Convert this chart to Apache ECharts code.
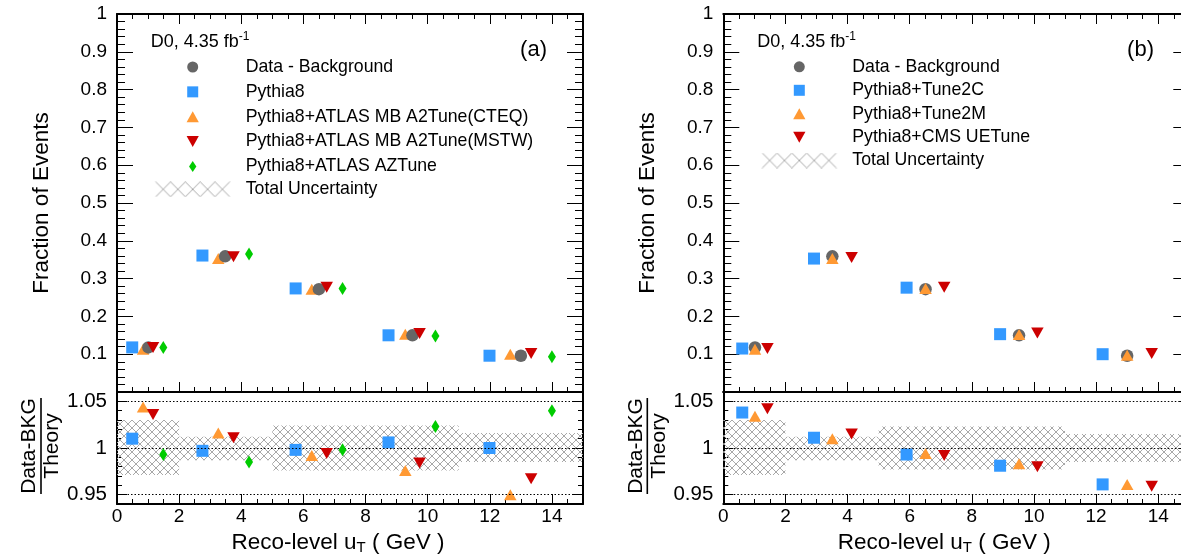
<!DOCTYPE html>
<html><head><meta charset="utf-8">
<script src="https://cdn.jsdelivr.net/npm/echarts@6/dist/echarts.min.js"></script>
<style>html,body{margin:0;padding:0;background:#fff}#c{width:1181px;height:556px}</style>
</head><body><div id="c"></div>
<script>
// ---------- data ----------
const binEdges = [0, 2, 5, 8, 11, 15];
const ratioTicks = [0.95, 1, 1.05];
// panel (a)
const aDataX = [1.01, 3.48, 6.50, 9.51, 13.00];
const aDataY = [0.118, 0.359, 0.272, 0.150, 0.096];
const aPyX = [0.49, 2.75, 5.75, 8.74, 11.99];
const aPyY = [0.118, 0.361, 0.274, 0.150, 0.096];
const aPyR = [1.010, 0.997, 0.998, 1.006, 1.000];
const aCteqX = [0.84, 3.26, 6.27, 9.28, 12.66];
const aCteqY = [0.113, 0.353, 0.272, 0.153, 0.100];
const aCteqR = [1.044, 1.016, 0.992, 0.976, 0.950];
const aMstwX = [1.16, 3.75, 6.75, 9.74, 13.33];
const aMstwY = [0.118, 0.358, 0.277, 0.155, 0.102];
const aMstwR = [1.036, 1.011, 0.994, 0.984, 0.967];
const aAzX = [1.49, 4.25, 7.26, 10.25, 14.00];
const aAzY = [0.118, 0.365, 0.274, 0.148, 0.093];
const aAzR = [0.993, 0.985, 0.998, 1.023, 1.040];
const aBandHi = [1.030, 1.012, 1.024, 1.024, 1.016];
const aBandLo = [0.971, 0.987, 0.976, 0.976, 0.985];
// panel (b)
const bDataX = [1.02, 3.51, 6.51, 9.52, 13.00];
const bDataY = [0.118, 0.359, 0.272, 0.150, 0.096];
const bC2X = [0.61, 2.92, 5.90, 8.91, 12.21];
const bC2Y = [0.115, 0.353, 0.276, 0.153, 0.100];
const bC2R = [1.038, 1.011, 0.993, 0.981, 0.961];
const bM2X = [1.02, 3.51, 6.51, 9.52, 13.00];
const bM2Y = [0.113, 0.353, 0.274, 0.152, 0.097];
const bM2R = [1.034, 1.010, 0.994, 0.983, 0.961];
const bCmsX = [1.42, 4.13, 7.11, 10.11, 13.79];
const bCmsY = [0.115, 0.356, 0.277, 0.156, 0.102];
const bCmsR = [1.042, 1.015, 0.992, 0.980, 0.959];
const bBandHi = [1.030, 1.012, 1.023, 1.023, 1.015];
const bBandLo = [0.971, 0.987, 0.977, 0.977, 0.985];

// ---------- styles ----------
const FONT = '"Liberation Sans", Arial, Helvetica, sans-serif';
const C_DATA = '#666666', C_BLUE = '#3399ff', C_ORANGE = '#ff9933', C_RED = '#cc0000', C_GREEN = '#00cc00';
const HATCH_COLOR = '#a8a8a8';
const SYM = {
  circle: {symbol: 'circle', size: 12.5, icon: 'circle'},
  square: {symbol: 'rect', size: [12, 12], icon: 'path://M0,0L10,0L10,10L0,10Z'},
  tri: {symbol: 'triangle', size: [12.5, 11], icon: 'path://M5,0L10,9L0,9Z'},
  inv: {symbol: 'path://M0,0L10,0L5,9Z', size: [12.5, 11], icon: 'path://M0,0L10,0L5,9Z'},
  dia: {symbol: 'diamond', size: [8, 13], icon: 'path://M4,0L8,6L4,12L0,6Z'}
};

function hatchTile() {
  const c = document.createElement('canvas'); c.width = 8; c.height = 8;
  const g = c.getContext('2d');
  g.strokeStyle = HATCH_COLOR; g.lineWidth = 1;
  g.beginPath(); g.moveTo(0, 0); g.lineTo(8, 8); g.moveTo(8, 0); g.lineTo(0, 8); g.stroke();
  return c;
}
const tile = hatchTile();
function hatchIcon() {
  const c = document.createElement('canvas'); c.width = 96; c.height = 16;
  const g = c.getContext('2d');
  g.strokeStyle = HATCH_COLOR; g.lineWidth = 1;
  const cw = 74 / 5;
  g.beginPath();
  for (let i = 0; i < 5; i++) {
    const x0 = 11 + i * cw, x1 = x0 + cw;
    g.moveTo(x0, 0.5); g.lineTo(x1, 15.5);
    g.moveTo(x1, 0.5); g.lineTo(x0, 15.5);
  }
  g.stroke();
  return 'image://' + c.toDataURL();
}
const HATCH_ICON = hatchIcon();

// ---------- layout ----------
const PX = [117, 723.3];
const GW = 466;
const grids = [];
PX.forEach(l => {
  grids.push({left: l, top: 14, width: GW, height: 378, containLabel: false, outerBoundsMode: 'none'});
  grids.push({left: l, top: 392, width: GW, height: 112, containLabel: false, outerBoundsMode: 'none'});
});

const xAxes = [], yAxes = [];
function xa(grid, pos, opt) {
  const o = {
    type: 'value', gridIndex: grid, position: pos, min: 0, max: 15, interval: opt.interval,
    axisLine: {show: !!opt.line, onZero: false, lineStyle: {color: '#000', width: 2}},
    axisTick: {show: opt.tick > 0, inside: true, length: opt.tick || 0, lineStyle: {color: '#000', width: 1}},
    axisLabel: {show: !!opt.label, margin: 3, showMaxLabel: false, color: '#000', fontSize: 19, fontFamily: FONT},
    splitLine: {show: false}
  };
  if (opt.name) {
    o.name = '{n|Reco-level u}{s|T}{n| ( GeV )}';
    o.nameLocation = 'middle';
    o.nameGap = 26;
    o.nameTextStyle = {color: '#000', fontFamily: FONT, fontSize: 22.5, padding: [0, 24, 0, 0],
      rich: {n: {fontSize: 22.5, fontFamily: FONT, color: '#000'},
             s: {fontSize: 15, fontFamily: FONT, color: '#000', padding: [10, 0, 0, 0]}}};
  }
  xAxes.push(o); return xAxes.length - 1;
}
function ya(grid, pos, opt) {
  const o = {
    type: 'value', gridIndex: grid, position: pos, min: opt.min, max: opt.max,
    axisLine: {show: !!opt.line, onZero: false, lineStyle: {color: '#000', width: 2}},
    axisTick: {show: true, inside: true, length: opt.tick, lineStyle: {color: '#000', width: 1}},
    axisLabel: {show: !!opt.label, margin: 10, showMinLabel: opt.showMin !== false, color: '#000', fontSize: opt.fs || 19, fontFamily: FONT},
    splitLine: {show: false}
  };
  if (opt.interval) o.interval = opt.interval;
  if (opt.minor) o.minorTick = {show: true, splitNumber: opt.minor, length: opt.minorLen, lineStyle: {color: '#000', width: 1}};
  if (opt.custom) { o.axisTick.customValues = opt.custom; o.axisLabel.customValues = opt.custom; }
  if (opt.name) {
    o.name = opt.name; o.nameLocation = 'middle'; o.nameGap = 64; o.nameRotate = 90;
    o.nameTextStyle = {color: '#000', fontFamily: FONT, fontSize: 22.5};
  }
  yAxes.push(o); return yAxes.length - 1;
}

const idx = [];
[0, 1].forEach(p => {
  const gt = p * 2, gr = p * 2 + 1;
  const r = {};
  r.tx = xa(gt, 'bottom', {interval: 2, tick: 10, line: true});
  xa(gt, 'bottom', {interval: 0.5, tick: 5});
  xa(gt, 'top', {interval: 2, tick: 10, line: true});
  xa(gt, 'top', {interval: 0.5, tick: 5});
  r.rx = xa(gr, 'bottom', {interval: 2, tick: 10, line: true, label: true, name: true});
  xa(gr, 'bottom', {interval: 0.5, tick: 5});
  xa(gr, 'top', {interval: 2, tick: 0, line: true});
  r.ty = ya(gt, 'left', {min: 0, max: 1, interval: 0.1, tick: 16, minor: 5, minorLen: 8, line: true, label: true, showMin: false, name: 'Fraction of Events'});
  ya(gt, 'right', {min: 0, max: 1, interval: 0.1, tick: 16, minor: 5, minorLen: 8, line: true});
  r.ry = ya(gr, 'left', {min: 0.94, max: 1.06, custom: ratioTicks, tick: 10, line: true, label: true, fs: 20.5});
  ya(gr, 'left', {min: 0.94, max: 1.06, interval: 0.01, tick: 5});
  ya(gr, 'right', {min: 0.94, max: 1.06, custom: ratioTicks, tick: 10, line: true});
  ya(gr, 'right', {min: 0.94, max: 1.06, interval: 0.01, tick: 5});
  idx.push(r);
});

function pts(xs, ys) { return xs.map((x, i) => [x, ys[i]]); }
function scat(name, xs, ys, color, sym, ax, yx, z) {
  return {type: 'scatter', name, data: pts(xs, ys), xAxisIndex: ax, yAxisIndex: yx,
    symbol: sym.symbol, symbolSize: sym.size, itemStyle: {color, opacity: 1}, z: z || 2,
    silent: true, animation: false, clip: false};
}
function band(lo, hi, ax, yx) {
  return {type: 'custom', name: 'Total Uncertainty', xAxisIndex: ax, yAxisIndex: yx, z: 1, silent: true, clip: true,
    data: binEdges.slice(0, -1).map((e, i) => [e, binEdges[i + 1], lo[i], hi[i]]),
    encode: {x: [0, 1], y: [2, 3]},
    renderItem: (params, api) => {
      const p0 = api.coord([api.value(0), api.value(3)]);
      const p1 = api.coord([api.value(1), api.value(2)]);
      return {type: 'rect', shape: {x: p0[0], y: p0[1], width: p1[0] - p0[0], height: p1[1] - p0[1]},
        style: {fill: {image: tile, repeat: 'repeat'}, stroke: null}};
    },
    markLine: {silent: true, symbol: ['none', 'none'], label: {show: false},
      lineStyle: {color: '#000', width: 1, type: [1.5, 2]},
      emphasis: {disabled: true},
      data: ratioTicks.map(v => ({yAxis: v}))}
  };
}

const A = idx[0], B = idx[1];
const series = [
  scat('Pythia8', aPyX, aPyY, C_BLUE, SYM.square, A.tx, A.ty, 2),
  scat('Pythia8+ATLAS MB A2Tune(CTEQ)', aCteqX, aCteqY, C_ORANGE, SYM.tri, A.tx, A.ty, 3),
  scat('Data - Background', aDataX, aDataY, C_DATA, SYM.circle, A.tx, A.ty, 4),
  scat('Pythia8+ATLAS MB A2Tune(MSTW)', aMstwX, aMstwY, C_RED, SYM.inv, A.tx, A.ty, 5),
  scat('Pythia8+ATLAS AZTune', aAzX, aAzY, C_GREEN, SYM.dia, A.tx, A.ty, 6),
  band(aBandLo, aBandHi, A.rx, A.ry),
  scat('Pythia8', aPyX, aPyR, C_BLUE, SYM.square, A.rx, A.ry, 2),
  scat('Pythia8+ATLAS MB A2Tune(CTEQ)', aCteqX, aCteqR, C_ORANGE, SYM.tri, A.rx, A.ry, 3),
  scat('Pythia8+ATLAS MB A2Tune(MSTW)', aMstwX, aMstwR, C_RED, SYM.inv, A.rx, A.ry, 5),
  scat('Pythia8+ATLAS AZTune', aAzX, aAzR, C_GREEN, SYM.dia, A.rx, A.ry, 6),
  scat('Data - Background', bDataX, bDataY, C_DATA, SYM.circle, B.tx, B.ty, 2),
  scat('Pythia8+Tune2C', bC2X, bC2Y, C_BLUE, SYM.square, B.tx, B.ty, 3),
  scat('Pythia8+Tune2M', bM2X, bM2Y, C_ORANGE, SYM.tri, B.tx, B.ty, 4),
  scat('Pythia8+CMS UETune', bCmsX, bCmsY, C_RED, SYM.inv, B.tx, B.ty, 5),
  band(bBandLo, bBandHi, B.rx, B.ry),
  scat('Pythia8+Tune2C', bC2X, bC2R, C_BLUE, SYM.square, B.rx, B.ry, 3),
  scat('Pythia8+Tune2M', bM2X, bM2R, C_ORANGE, SYM.tri, B.rx, B.ry, 4),
  scat('Pythia8+CMS UETune', bCmsX, bCmsR, C_RED, SYM.inv, B.rx, B.ry, 5)
];

const legTS = {color: '#000', fontSize: 17.7, fontFamily: FONT, lineHeight: 20};
function legend(left, top, items, ih, gap) {
  return {orient: 'vertical', left, top, padding: 0, itemWidth: 96, itemHeight: ih, itemGap: gap,
    selectedMode: false, textStyle: legTS, data: items, inactiveColor: '#000'};
}
// marker legends: visible icon is centred in the 96px item slot; the legend box starts at the widest icon's edge
const ICON_OFF = 48 - 6.1;
const legends = [
  legend(144.7 + ICON_OFF, 57, [
    {name: 'Data - Background', icon: SYM.circle.icon},
    {name: 'Pythia8', icon: SYM.square.icon},
    {name: 'Pythia8+ATLAS MB A2Tune(CTEQ)', icon: SYM.tri.icon},
    {name: 'Pythia8+ATLAS MB A2Tune(MSTW)', icon: SYM.inv.icon},
    {name: 'Pythia8+ATLAS AZTune', icon: SYM.dia.icon}], 11, 4.85),
  legend(144.7, 179.3, [{name: 'Total Uncertainty', icon: HATCH_ICON}], 16, 4.85),
  legend(751.3 + ICON_OFF, 56.8, [
    {name: 'Data - Background', icon: SYM.circle.icon},
    {name: 'Pythia8+Tune2C', icon: SYM.square.icon},
    {name: 'Pythia8+Tune2M', icon: SYM.tri.icon},
    {name: 'Pythia8+CMS UETune', icon: SYM.inv.icon}], 11, 3.5),
  legend(751.3, 150.5, [{name: 'Total Uncertainty', icon: HATCH_ICON}], 16, 3.5)
];

function lumiText(x) {
  return {type: 'text', x, y: 42, style: {text: '{m|D0, 4.35 fb}{s|-1}', verticalAlign: 'middle', align: 'left',
    rich: {m: {fontSize: 18, fontFamily: FONT, fill: '#000'}, s: {fontSize: 12, fontFamily: FONT, fill: '#000', padding: [0, 0, 11, 0]}}}};
}
function tagText(x, t) {
  return {type: 'text', x, y: 50, style: {text: t, fontSize: 22, fontFamily: FONT, fill: '#000', align: 'right', verticalAlign: 'middle'}};
}
function ratioTitle(x) {
  return {type: 'group', x, y: 446, rotation: Math.PI / 2, children: [
    {type: 'text', x: 0, y: -1, style: {text: 'Data-BKG', fontSize: 21, fontFamily: FONT, fill: '#000', align: 'center', verticalAlign: 'bottom'}},
    {type: 'line', shape: {x1: -48, y1: 0, x2: 48, y2: 0}, style: {stroke: '#000', lineWidth: 1.6}},
    {type: 'text', x: 0, y: 1, style: {text: 'Theory', fontSize: 21, fontFamily: FONT, fill: '#000', align: 'center', verticalAlign: 'top'}}
  ]};
}

const chart = echarts.init(document.getElementById('c'), null, {renderer: 'canvas'});
chart.setOption({
  animation: false,
  backgroundColor: '#fff',
  grid: grids,
  xAxis: xAxes,
  yAxis: yAxes,
  legend: legends,
  series,
  graphic: [lumiText(150.7), lumiText(757.3), tagText(547, '(a)'), tagText(1154, '(b)'), ratioTitle(41), ratioTitle(647.3)]
});
</script>
</body></html>
